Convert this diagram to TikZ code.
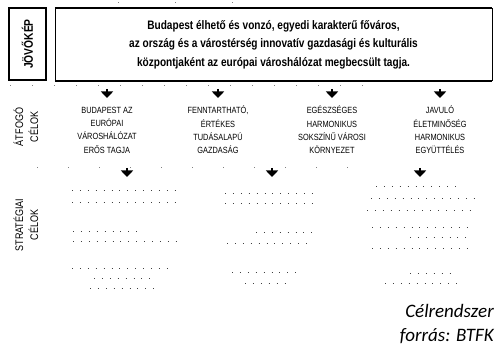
\documentclass[tikz,border=0pt]{standalone}
\usepackage{fontspec}
\setmainfont{Liberation Sans}
\newfontfamily\narrowsans[FakeStretch=0.82]{Liberation Sans}
\newfontfamily\calib{Carlito}
\usetikzlibrary{arrows.meta}
\begin{document}
\begin{tikzpicture}[x=1pt,y=-1pt,
  sidelbl/.style={font=\narrowsans\fontsize{11}{15}\selectfont, rotate=90, align=center, inner sep=0pt},
  goal/.style={font=\narrowsans\fontsize{9}{13.3}\selectfont, align=center, inner sep=0pt},
  vis/.style={font=\narrowsans\bfseries\fontsize{12.3}{18.5}\selectfont, align=center},
  arr/.style={-{Triangle[width=12pt,length=6.5pt]}, line width=1.6pt},
  sep/.style={gray, line width=0.7pt, dash pattern=on 1pt off 21pt},
  dotrow/.style={black!75, line width=0.9pt, dash pattern=on 0.9pt off 7pt},
  src/.style={font=\calib\itshape\fontsize{19}{22}\selectfont, anchor=base east, inner sep=0pt}]
\useasboundingbox (0,0) rectangle (499,347);
\fill[white] (0,0) rectangle (499,347);

% vision
\node[draw, line width=1.1pt, rotate=90, minimum width=72pt, minimum height=37pt, inner sep=0pt,
      font=\narrowsans\bfseries\fontsize{12.5}{13}\selectfont] (jk) at (27.5,44) {JÖVŐKÉP};
\node[minimum width=437pt, minimum height=72pt, inner sep=0pt, vis] (vision) at (273.5,44.5)
  {Budapest élhető és vonzó, egyedi karakterű főváros,\\
   az ország és a várostérség innovatív gazdasági és kulturális\\
   központjaként az európai városhálózat megbecsült tagja.};
\draw[line width=1.7pt] (vision.north west) -- (vision.north east);
\draw[line width=1.7pt] (vision.south west) -- (vision.south east);
\draw[line width=0.6pt] (vision.north west) -- (vision.south west);
\draw[line width=1pt] (vision.north east) -- (vision.south east);

% faint separators
\draw[sep] (10,85) -- (372,85);
\draw[sep, dash pattern=on 1pt off 30pt] (37,167) -- (370,167);
\draw[sep, dash pattern=on 1pt off 56pt] (118,2) -- (260,2);

% side labels
\node[sidelbl] (atf) at (26,127) {ÁTFOGÓ\\CÉLOK};
\node[sidelbl] (str) at (26,225) {STRATÉGIAI\\CÉLOK};

% overall goals
\node[goal] (g1) at (107,130) {BUDAPEST AZ\\EURÓPAI\\VÁROSHÁLÓZAT\\ERŐS TAGJA};
\node[goal] (g2) at (218,130) {FENNTARTHATÓ,\\ÉRTÉKES\\TUDÁSALAPÚ\\GAZDASÁG};
\node[goal] (g3) at (332,130) {EGÉSZSÉGES\\HARMONIKUS\\SOKSZÍNŰ VÁROSI\\KÖRNYEZET};
\node[goal] (g4) at (440,130) {JAVULÓ\\ÉLETMINŐSÉG\\HARMONIKUS\\EGYÜTTÉLÉS};

\foreach \i/\x in {1/107,2/218,3/332,4/440}{
  \coordinate (v\i) at (\x,89);
  \coordinate (t\i) at (\x,98);
  \draw[arr] (v\i) -- (t\i);
}
\foreach \i/\x in {1/127,2/272,3/420}{
  \coordinate (s\i) at (\x,168);
  \coordinate (e\i) at (\x,177);
  \draw[arr] (s\i) -- (e\i);
}

% strategic goals (illegible in the reference: rows of dots)
\foreach \a/\b/\y in {72/176/190, 72/176/202, 73/144/231, 73/179/241, 72/174/268, 94/156/278, 90/161/288,
                      225/318/193, 225/318/203, 256/315/232, 227/311/243, 232/302/272, 245/292/283,
                      376/462/186, 371/478/198, 367/471/210, 372/472/227, 410/466/237, 372/472/248, 410/455/273, 385/460/283}{
  \draw[dotrow] (\a,\y) -- (\b,\y);
}

% source
\node[src] (c1) at (494,318) {Célrendszer};
\node[src] (c2) at (494,342) {forrás: BTFK};
\end{tikzpicture}
\end{document}
